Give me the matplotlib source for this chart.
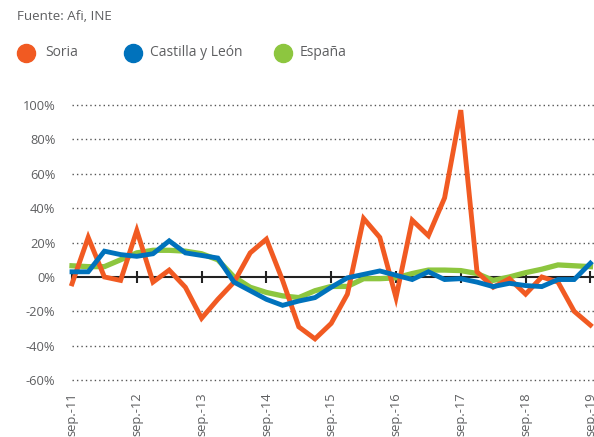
import matplotlib
matplotlib.use("Agg")
import matplotlib.pyplot as plt
from matplotlib.lines import Line2D

# ---- data (quarterly, sep-11 .. sep-19) ----
soria = [-4, 23, 0, -2, 27, -3, 4, -6, -24, -13, -3, 14, 22, -2, -29, -36, -27,
         -10, 34, 23, -12, 33, 24, 46, 97, 3, -6, -1, -10, 0, -3, -20, -28]
castilla = [3, 3, 15, 13, 12, 13.5, 21, 14, 12.5, 11, -3, -8, -13, -16.5, -14, -12, -6,
            -0.5, 1.5, 3.5, 1, -1.5, 3, -1.5, -1, -3, -5.6, -3.7, -5, -5.6, -1.5, -1.5, 8]
espana = [6.5, 6, 6, 10, 14, 15.5, 15.5, 15, 13.5, 10, 0, -6, -9, -11, -12, -8, -5.5,
          -5.5, -1, -1, -0.5, 2, 4, 4, 3.7, 2, -2, 0, 2.5, 4.5, 7, 6.5, 6]
year_labels = ["sep.-11", "sep.-12", "sep.-13", "sep.-14", "sep.-15",
               "sep.-16", "sep.-17", "sep.-18", "sep.-19"]
y_ticks = [-60, -40, -20, 0, 20, 40, 60, 80, 100]
series_names = ["Soria", "Castilla y León", "España"]
colors = ["#F15A22", "#0072BC", "#8DC63F"]
text_gray = "#5E5F61"

plt.rcParams['font.family'] = ['Open Sans', 'DejaVu Sans']

W, H = 594, 437
fig = plt.figure(figsize=(W / 100, H / 100), dpi=100)
left_px, right_px = 72, 594
top_px, bot_px = 99.8, 383.6
ax = fig.add_axes([left_px / W, 1 - bot_px / H, (right_px - left_px) / W, (bot_px - top_px) / H])

x = list(range(len(soria)))
step = 16.2
ax.set_xlim(0, (right_px - left_px) / step)
ax.set_ylim(-62, 103)

# grid lines
for v in y_ticks:
    if v != 0:
        ax.axhline(v, color="#555555", lw=1.0, ls=(0, (1, 2.2)), zorder=1)
ax.axhline(0, color="#222222", lw=1.5, zorder=2)
year_pos = [4 * i for i in range(len(year_labels))]
ax.plot(year_pos, [0] * len(year_pos), ls="none", marker="|", ms=9, mew=1.5,
        color="#222222", zorder=2, clip_on=False)

ax.plot(x, espana, color=colors[2], lw=3.8, zorder=3, solid_joinstyle="miter", clip_on=False)
ax.plot(x, soria, color=colors[0], lw=3.5, zorder=4, solid_joinstyle="miter", clip_on=False)
ax.plot(x, castilla, color=colors[1], lw=3.5, zorder=5, solid_joinstyle="miter", clip_on=False)

for s in ax.spines.values():
    s.set_visible(False)
ax.set_yticks(y_ticks)
ax.set_yticklabels([f"{v}%" for v in y_ticks], color=text_gray, fontsize=9.3)
ax.tick_params(axis="y", length=0, pad=12)
ax.set_xticks(year_pos)
ax.set_xticklabels(year_labels, rotation=90, color=text_gray, fontsize=9.3)
ax.tick_params(axis="x", length=0, pad=6)

# source
fig.text(17 / W, 1 - 16 / H, "Fuente: Afi, INE", color=text_gray, fontsize=9.6,
         va="center", ha="left")

# legend (manual placement)
leg_y = 1 - 53 / H
circle_x = [26, 133, 283]
text_x = [45, 150, 300]
for cx, tx, c, name in zip(circle_x, text_x, colors, series_names):
    fig.add_artist(Line2D([cx / W], [leg_y], ls="none", marker="o", ms=13, color=c,
                          transform=fig.transFigure))
    fig.text(tx / W, leg_y, name, color=text_gray, fontsize=10, va="center", ha="left")

fig.savefig("out.png", dpi=100)
